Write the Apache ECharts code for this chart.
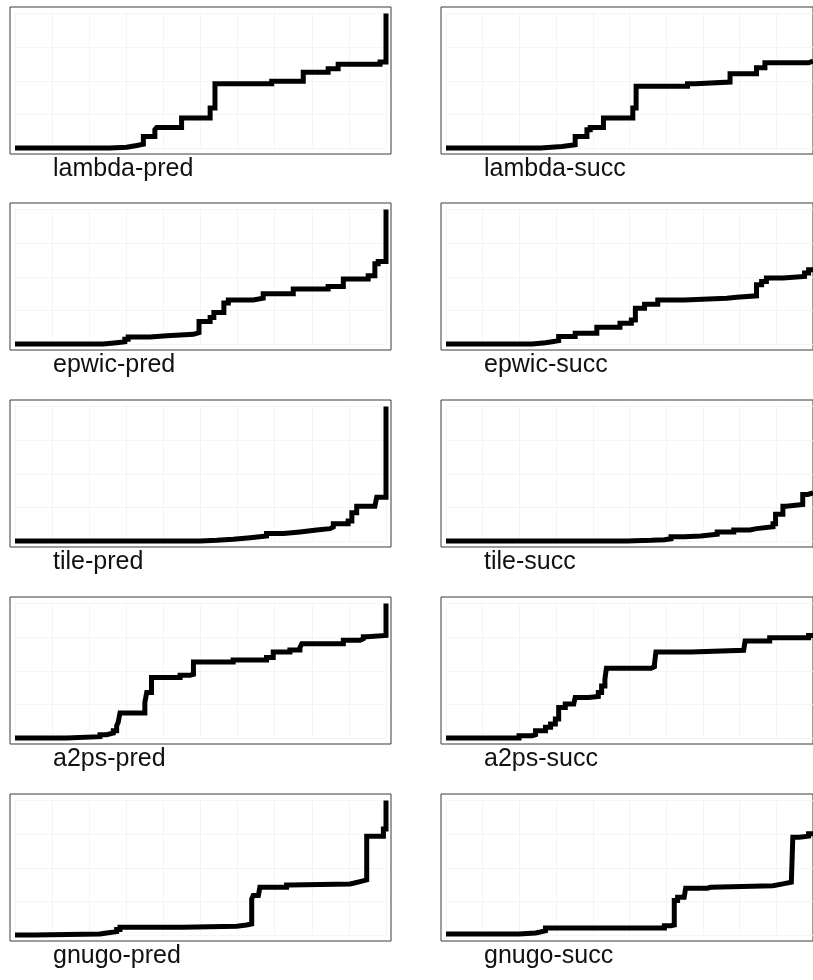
<!DOCTYPE html>
<html>
<head>
<meta charset="utf-8">
<style>
  html, body { margin: 0; padding: 0; background: #ffffff; }
  #chart { width: 813px; height: 980px; }
</style>
<script src="https://cdn.jsdelivr.net/npm/echarts@6/dist/echarts.min.js"></script>
</head>
<body>
<div id="chart"></div>
<script>
// Benchmarks, one row each; left column is the "pred" variant, right the "succ" variant
const programs = ['lambda', 'epwic', 'tile', 'a2ps', 'gnugo'];
const variants = ['pred', 'succ'];

// Shared axis ranges (percent of run on x, percent of total on y)
const xRange = [0, 100];
const xStep = 10;
const yRange = [0, 100];
const yStep = 25;

// Step curves: each pair is [x where the level starts, level]
const lambdaPred = [[0,0],[25.6,0.6],[30.1,1.9],[32.8,2.9],[34.6,8.6],[37.7,13.6],[38.2,15.3],[44.9,22.3],[52.6,29.7],[53.9,47.7],[69.2,49.7],[77.7,56.4],[84.4,58.9],[87.1,62.2],[98.4,63.9],[100,100]];
const lambdaSucc = [[0,0],[25.8,1.1],[31.6,2.4],[35.2,8.6],[38.4,13.6],[39.3,15.3],[42.9,22.3],[50.9,29.7],[51.8,46.0],[65.8,47.7],[68.0,49.0],[77.4,55.2],[84.6,59.6],[86.9,63.4],[98.8,64.6],[100,64.6]];

const epwicPred = [[0,0],[23.8,1.0],[27.4,1.7],[29.6,3.5],[30.5,5.2],[36.4,6.2],[40.9,7.2],[48.1,8.5],[49.6,16.7],[52.6,19.7],[53.6,23.4],[56.3,30.4],[57.5,32.8],[64.2,34.1],[66.9,37.3],[75.0,40.8],[84.4,42.8],[88.5,48.3],[95.2,50.7],[97.0,59.7],[97.9,61.4],[100,100]];
const epwicSucc = [[0,0],[23.5,1.0],[27.1,1.7],[28.9,2.5],[30.7,5.5],[35.2,8.0],[41.1,12.4],[47.4,15.4],[50.5,17.9],[51.6,26.6],[54.1,29.6],[57.7,32.8],[64.9,34.1],[76.5,34.8],[79.2,35.8],[84.6,44.0],[86.0,46.5],[87.3,49.0],[91.8,50.2],[97.7,52.7],[98.8,55.2],[100,55.2]];

const tilePred = [[0,0],[49.9,0.5],[54.4,1.3],[58.8,2.5],[63.4,3.7],[67.8,5.5],[72.4,6.7],[76.8,8.1],[81.3,9.2],[84.9,10.4],[85.8,12.9],[89.8,14.8],[90.8,21.0],[92.1,25.9],[97.0,27.2],[97.5,32.6],[100,100]];
const tileSucc = [[0,0],[49.6,0.2],[51.4,0.5],[55.9,1.0],[59.5,1.7],[61.3,3.2],[64.9,3.7],[69.4,5.0],[73.9,6.7],[78.4,8.2],[82.8,9.2],[84.6,10.6],[89.1,12.9],[89.8,19.8],[91.8,25.9],[92.7,27.2],[97.2,34.6],[98.6,35.8],[100,35.8]];

const a2psPred = [[0,0],[13.9,1.0],[22.9,2.5],[24.7,3.7],[26.5,5.4],[27.4,9.1],[27.8,11.6],[28.3,18.5],[35.0,26.4],[35.5,33.8],[36.8,45.0],[44.5,46.7],[47.2,47.4],[48.1,56.5],[58.8,58.0],[67.8,59.8],[69.6,63.9],[74.1,65.4],[76.8,67.2],[77.3,70.1],[88.5,72.6],[93.0,73.8],[93.9,75.3],[94.8,76.3],[100,100]];
const a2psSucc = [[0,0],[19.9,1.7],[23.5,2.5],[24.4,5.4],[27.1,7.9],[28.5,10.4],[29.8,14.1],[30.7,22.7],[32.5,25.2],[34.8,26.4],[35.2,30.1],[38.8,30.9],[41.5,33.8],[42.4,38.7],[43.3,43.7],[43.7,51.9],[55.9,53.1],[56.8,54.8],[57.2,63.9],[66.7,65.2],[81.1,66.4],[81.5,72.1],[88.2,74.6],[98.8,76.3],[100,76.3]];

const gnugoPred = [[0,0],[4.9,0.7],[22.9,1.5],[24.7,2.5],[27.4,4.0],[28.3,5.7],[45.0,6.5],[59.8,7.4],[62.4,8.2],[63.8,26.8],[64.2,29.3],[65.6,30.5],[66.0,35.5],[73.2,37.2],[74.1,38.0],[90.3,38.5],[91.2,39.7],[93.0,41.0],[94.8,73.5],[99.3,78.9],[100,100]];
const gnugoSucc = [[0,0.7],[19.9,1.5],[24.4,2.0],[25.3,3.2],[27.1,5.2],[59.5,6.9],[61.3,7.4],[62.2,25.6],[63.1,28.0],[64.9,29.3],[65.3,34.8],[71.2,35.5],[72.1,36.7],[89.1,38.0],[91.8,39.2],[94.1,39.7],[94.5,72.7],[96.3,73.5],[98.8,75.2],[100,75.2]];

const curves = [
  [lambdaPred, lambdaSucc],
  [epwicPred, epwicSucc],
  [tilePred, tileSucc],
  [a2psPred, a2psSucc],
  [gnugoPred, gnugoSucc]
];

// Panel layout in pixels
const colLeft = [10, 441];
const rowTop = [7, 203, 400, 597, 794];
const frameW = 381;
const frameH = 147;
const inset = { left: 5, top: 6.5, width: 371, height: 134.5 };

const grid = [], xAxis = [], yAxis = [], series = [], title = [];
const gridLine = { show: true, lineStyle: { color: '#ebebeb', type: 'dotted', width: 1 } };

programs.forEach((prog, r) => {
  variants.forEach((v, c) => {
    const fl = colLeft[c], ft = rowTop[r];
    const g = grid.length;
    // outer frame
    grid.push({ left: fl, top: ft, width: frameW, height: frameH, show: true,
      borderColor: '#3a3a3a', borderWidth: 1, backgroundColor: 'transparent', containLabel: false });
    xAxis.push({ gridIndex: g, type: 'value', show: false, min: 0, max: 1 });
    yAxis.push({ gridIndex: g, type: 'value', show: false, min: 0, max: 1 });
    // plotting area
    grid.push({ left: fl + inset.left, top: ft + inset.top, width: inset.width, height: inset.height,
      show: false, containLabel: false });
    xAxis.push({ gridIndex: g + 1, type: 'value', min: xRange[0], max: xRange[1], interval: xStep,
      axisLine: { show: false }, axisTick: { show: false }, axisLabel: { show: false }, splitLine: gridLine });
    yAxis.push({ gridIndex: g + 1, type: 'value', min: yRange[0], max: yRange[1], interval: yStep,
      axisLine: { show: false }, axisTick: { show: false }, axisLabel: { show: false }, splitLine: gridLine });
    series.push({
      type: 'line', xAxisIndex: g + 1, yAxisIndex: g + 1,
      data: curves[r][c], step: 'end', symbol: 'none', showSymbol: false, clip: false, silent: true,
      lineStyle: { color: '#000000', width: 5, cap: 'butt', join: 'miter' }
    });
    title.push({ text: prog + '-' + v, left: fl + 43, top: ft + frameH + 3, padding: 0,
      textStyle: { fontFamily: 'Liberation Sans, Arial, sans-serif', fontSize: 25, fontWeight: 'normal', color: '#111' } });
  });
});

const chart = echarts.init(document.getElementById('chart'), null, { renderer: 'canvas' });
chart.setOption({ animation: false, backgroundColor: '#ffffff', title, grid, xAxis, yAxis, series });
</script>
</body>
</html>
